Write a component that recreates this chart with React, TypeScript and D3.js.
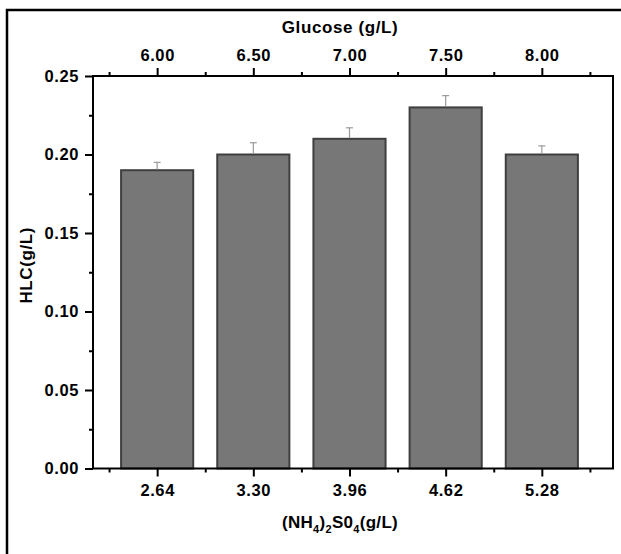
import { useEffect, useRef } from 'react';
import * as d3 from 'd3';

// values
const ammonium = [2.64, 3.3, 3.96, 4.62, 5.28];
const glucose = [6.0, 6.5, 7.0, 7.5, 8.0];
const hlc = [0.19, 0.2, 0.21, 0.23, 0.2];
const hlcErr = [0.005, 0.0075, 0.007, 0.0075, 0.0055];
const yTicks = [0, 0.05, 0.1, 0.15, 0.2, 0.25];

const FONT = '"Liberation Sans", Arial, sans-serif';

const App = () => {
  const chartRef = useRef<SVGSVGElement>(null);

  useEffect(() => {
    const svg = d3.select(chartRef.current);
    svg.selectAll('*').remove();

    const margin = { top: 76, right: 8, bottom: 85, left: 93 };
    const W = 621;
    const H = 554;
    const width = W - margin.left - margin.right;
    const height = H - margin.top - margin.bottom - 0.5;

    // outer frame (only left and top edges are inside the picture)
    svg.append('rect')
      .attr('x', 7).attr('y', 10)
      .attr('width', 640).attr('height', 600)
      .attr('fill', 'none').attr('stroke', '#000').attr('stroke-width', 2.5);

    const g = svg.append('g').attr('transform', `translate(${margin.left},${margin.top})`);

    const step = ammonium[1] - ammonium[0];
    const x = d3.scaleLinear()
      .domain([ammonium[0] - step * 0.667, ammonium[ammonium.length - 1] + step * 0.74])
      .range([0, width]);

    const gStep = glucose[1] - glucose[0];
    const xTop = d3.scaleLinear()
      .domain(x.domain().map(v => glucose[0] + (v - ammonium[0]) / step * gStep))
      .range([0, width]);

    const y = d3.scaleLinear().domain([0, 0.25]).range([height, 0]);

    const barW = x(ammonium[0] + step * 0.75) - x(ammonium[0]);

    // bars
    g.selectAll('.bar')
      .data(ammonium)
      .enter().append('rect')
      .attr('class', 'bar')
      .attr('x', d => x(d) - barW / 2)
      .attr('y', (d, i) => y(hlc[i]))
      .attr('width', barW)
      .attr('height', (d, i) => height - y(hlc[i]))
      .attr('fill', '#777777')
      .attr('stroke', '#3f3f3f')
      .attr('stroke-width', 2);

    // upper error bars
    g.selectAll('.err')
      .data(ammonium)
      .enter().append('line')
      .attr('class', 'err')
      .attr('x1', d => x(d)).attr('x2', d => x(d))
      .attr('y1', (d, i) => y(hlc[i]) - 1)
      .attr('y2', (d, i) => y(hlc[i] + hlcErr[i]))
      .attr('stroke', '#9a9a9a').attr('stroke-width', 1.2);

    g.selectAll('.cap')
      .data(ammonium)
      .enter().append('line')
      .attr('class', 'cap')
      .attr('x1', d => x(d) - 3.5).attr('x2', d => x(d) + 3.5)
      .attr('y1', (d, i) => y(hlc[i] + hlcErr[i]))
      .attr('y2', (d, i) => y(hlc[i] + hlcErr[i]))
      .attr('stroke', '#9a9a9a').attr('stroke-width', 1.2);

    const styleAxis = (sel: any, major: boolean) => {
      sel.select('.domain').remove();
      sel.selectAll('line').attr('stroke', '#000').attr('stroke-width', 2);
      sel.selectAll('text')
        .attr('fill', '#000')
        .style('font-family', FONT)
        .style('font-size', '16.5px')
        .style('font-weight', 'bold')
        .style('letter-spacing', '0.6px');
      if (!major) sel.selectAll('text').remove();
    };

    const minorX = ammonium.map(d => d - step / 2).concat([ammonium[ammonium.length - 1] + step / 2]);
    const minorTop = glucose.map(d => d - gStep / 2).concat([glucose[glucose.length - 1] + gStep / 2]);
    const minorY = yTicks.slice(1).map(d => d - 0.025);

    // bottom axis
    g.append('g')
      .attr('transform', `translate(0,${height})`)
      .call(d3.axisBottom(x).tickValues(ammonium).tickSize(8).tickPadding(8).tickFormat(d3.format('.2f')))
      .call((s: any) => styleAxis(s, true));
    g.append('g')
      .attr('transform', `translate(0,${height})`)
      .call(d3.axisBottom(x).tickValues(minorX).tickSize(4).tickFormat(() => ''))
      .call((s: any) => styleAxis(s, false));

    // top axis
    g.append('g')
      .call(d3.axisTop(xTop).tickValues(glucose).tickSize(8).tickPadding(7).tickFormat(d3.format('.2f')))
      .call((s: any) => styleAxis(s, true));
    g.append('g')
      .call(d3.axisTop(xTop).tickValues(minorTop).tickSize(4).tickFormat(() => ''))
      .call((s: any) => styleAxis(s, false));

    // left axis
    g.append('g')
      .call(d3.axisLeft(y).tickValues(yTicks).tickSize(8).tickPadding(6).tickFormat(d3.format('.2f')))
      .call((s: any) => styleAxis(s, true));
    g.append('g')
      .call(d3.axisLeft(y).tickValues(minorY).tickSize(4).tickFormat(() => ''))
      .call((s: any) => styleAxis(s, false));

    // plot frame
    g.append('rect')
      .attr('width', width).attr('height', height)
      .attr('fill', 'none').attr('stroke', '#000').attr('stroke-width', 2);

    // titles
    svg.append('text')
      .attr('x', margin.left + width / 2 - 13).attr('y', 33)
      .attr('text-anchor', 'middle')
      .style('font-family', FONT).style('font-size', '17px').style('font-weight', 'bold')
      .style('letter-spacing', '0.6px')
      .text('Glucose (g/L)');

    svg.append('text')
      .attr('transform', `translate(32,${margin.top + height / 2 - 7}) rotate(-90)`)
      .attr('text-anchor', 'middle')
      .style('font-family', FONT).style('font-size', '17px').style('font-weight', 'bold')
      .style('letter-spacing', '0.6px')
      .text('HLC(g/L)');

    const xt = svg.append('text')
      .attr('x', margin.left + width / 2 - 13).attr('y', 528)
      .attr('text-anchor', 'middle')
      .style('font-family', FONT).style('font-size', '17px').style('font-weight', 'bold')
      .style('letter-spacing', '0.3px');
    const parts: [string, boolean][] = [['(NH', false], ['4', true], [')', false], ['2', true], ['S0', false], ['4', true], ['(g/L)', false]];
    let low = false;
    parts.forEach(([t, sub]) => {
      const ts = xt.append('tspan').text(t);
      if (sub && !low) { ts.attr('dy', 5).style('font-size', '11px'); low = true; }
      else if (sub) { ts.style('font-size', '11px'); }
      else if (low) { ts.attr('dy', -5); low = false; }
    });
  }, []);

  return (
    <svg
      ref={chartRef}
      width={621}
      height={554}
      style={{ position: 'absolute', left: 0, top: 0, background: '#fff' }}
    />
  );
};

export default App;
